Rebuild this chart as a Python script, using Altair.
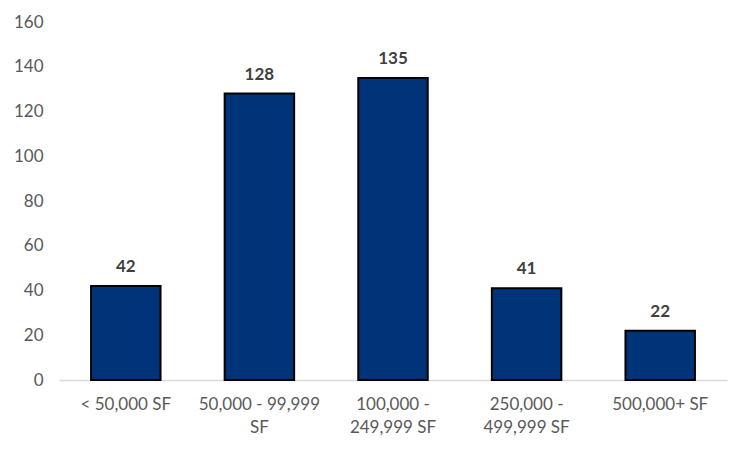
import altair as alt
import pandas as pd

categories = ["< 50,000 SF", "50,000 - 99,999\nSF", "100,000 -\n249,999 SF", "250,000 -\n499,999 SF", "500,000+ SF"]
values = [42, 128, 135, 41, 22]

df = pd.DataFrame({"cat": categories, "val": values})

base = alt.Chart(df).encode(
    x=alt.X("cat:N", sort=categories, title=None,
            scale=alt.Scale(paddingInner=0.48, paddingOuter=0.24),
            axis=alt.Axis(labelAngle=0, labelExpr="split(datum.label, '\\n')",
                          labelFont="Lato", labelFontSize=17, labelColor="#595959",
                          labelPadding=16, ticks=False, domainColor="#d9d9d9",
                          domainWidth=1.5, labelLineHeight=23)),
    y=alt.Y("val:Q", title=None,
            scale=alt.Scale(domain=[0, 160]),
            axis=alt.Axis(values=list(range(0, 161, 20)), grid=False, domain=False, ticks=False,
                          labelFont="Lato", labelFontSize=17, labelColor="#595959",
                          labelPadding=16)),
)

bars = base.mark_bar(color="#003478", stroke="black", strokeWidth=2)
text = base.mark_text(dy=-19, font="Lato", fontSize=17, fontWeight="bold", color="#404040").encode(text="val:Q")

chart = (bars + text).properties(
    width=668, height=358,
    background="white",
    autosize=alt.AutoSizeParams(type="none"),
    padding={"left": 59, "top": 22, "right": 23, "bottom": 69},
).configure_view(stroke=None, strokeWidth=0)

chart.save("out.html", embed_options={"renderer": "svg", "actions": False})
